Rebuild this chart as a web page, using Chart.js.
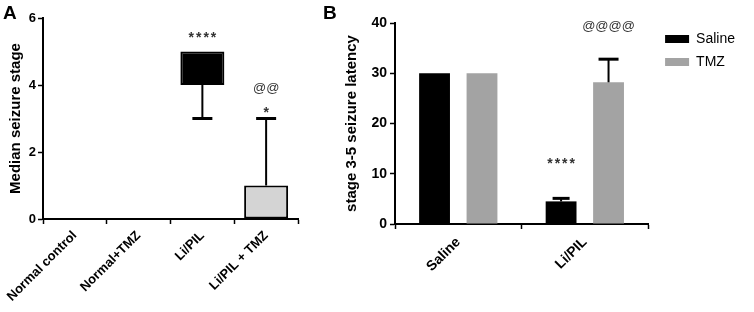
<!DOCTYPE html>
<html>
<head>
<meta charset="utf-8">
<script src="https://cdn.jsdelivr.net/npm/chart.js@4.4.1/dist/chart.umd.min.js"></script>
<style>
  html, body { margin: 0; padding: 0; background: #fff; }
  body { width: 754px; height: 312px; position: relative; overflow: hidden; font-family: 'Liberation Sans', Arial, sans-serif; }
  .panel { position: absolute; top: 0; height: 312px; }
  #panelA { left: 0; width: 320px; }
  #panelB { left: 320px; width: 434px; }
  .letter { position: absolute; font-weight: bold; font-size: 19px; line-height: 1; color: #000; }
</style>
</head>
<body>
<div class="panel" id="panelA"><canvas id="chartA" width="320" height="312"></canvas></div>
<div class="panel" id="panelB"><canvas id="chartB" width="434" height="312"></canvas></div>
<div class="letter" style="left:3px;top:3px">A</div>
<div class="letter" style="left:323px;top:3px">B</div>
<script>
// Panel A: median (box) with range whiskers
const groupsA = ['Normal control', 'Normal+TMZ', 'Li/PIL', 'Li/PIL + TMZ'];
const boxLowA = [0, 0, 4, 0];
const boxHighA = [0, 0, 5, 1];
const rangeMinA = [0, 0, 3, 0];
const rangeMaxA = [0, 0, 5, 3];
const ticksA = [0, 2, 4, 6];

// Panel B: latency, mean + error
const groupsB = ['Saline', 'Li/PIL'];
const salineB = [30, 4.5];
const salineErrB = [0, 0.6];
const tmzB = [30, 28.2];
const tmzErrB = [0, 4.6];
const ticksB = [0, 10, 20, 30, 40];

// significance marks: text, category index, dataset index, y value (baseline)
const notesA = [
  { text: '****', index: 2, dataset: 0, y: 5.28 },
  { text: '@@', index: 3, dataset: 0, y: 3.78 },
  { text: '*', index: 3, dataset: 0, y: 3.05 },
];
const notesB = [
  { text: '****', index: 1, dataset: 0, y: 11.05 },
  { text: '@@@@', index: 1, dataset: 1, y: 38.7 },
];

const FONT = "'Liberation Sans', Arial, sans-serif";
Chart.defaults.font.family = FONT;
Chart.defaults.color = '#000';

function drawNotes(chart, notes) {
  const { ctx, scales: { y } } = chart;
  ctx.save();
  ctx.fillStyle = '#333';
  ctx.textAlign = 'center';
  ctx.textBaseline = 'alphabetic';
  notes.forEach(n => {
    const bar = chart.getDatasetMeta(n.dataset).data[n.index];
    const isStar = n.text.indexOf('*') === 0;
    ctx.font = isStar ? `bold 14px ${FONT}` : `13px ${FONT}`;
    ctx.letterSpacing = isStar ? '2px' : '0px';
    ctx.fillText(n.text, bar.x + (isStar ? 1 : 0), y.getPixelForValue(n.y));
  });
  ctx.restore();
}

function whisker(ctx, x, y0, y1, cap) {
  ctx.lineWidth = 2;
  ctx.beginPath();
  ctx.moveTo(x, y0);
  ctx.lineTo(x, y1);
  ctx.stroke();
  ctx.lineWidth = 3;
  ctx.beginPath();
  ctx.moveTo(x - cap / 2, y1);
  ctx.lineTo(x + cap / 2, y1);
  ctx.stroke();
}

const extrasA = {
  id: 'extrasA',
  afterDatasetsDraw(chart) {
    const { ctx, scales: { y } } = chart;
    const bars = chart.getDatasetMeta(0).data;
    ctx.save();
    ctx.strokeStyle = '#000';
    bars.forEach((bar, i) => {
      if (rangeMinA[i] < boxLowA[i]) whisker(ctx, bar.x, y.getPixelForValue(boxLowA[i]), y.getPixelForValue(rangeMinA[i]), 20);
      if (rangeMaxA[i] > boxHighA[i]) whisker(ctx, bar.x, y.getPixelForValue(boxHighA[i]), y.getPixelForValue(rangeMaxA[i]), 20);
    });
    ctx.restore();
    drawNotes(chart, notesA);
  }
};

const extrasB = {
  id: 'extrasB',
  // nudge the legend a little to the right of the plot, like the original
  afterLayout(chart) {
    chart.legend.left += 8;
    chart.legend.right += 8;
  },
  afterDatasetsDraw(chart) {
    const { ctx, scales: { y } } = chart;
    ctx.save();
    ctx.strokeStyle = '#000';
    [[salineB, salineErrB, 17], [tmzB, tmzErrB, 20]].forEach(([vals, errs, cap], d) => {
      chart.getDatasetMeta(d).data.forEach((bar, i) => {
        if (errs[i] > 0) whisker(ctx, bar.x, y.getPixelForValue(vals[i]), y.getPixelForValue(vals[i] + errs[i]), cap);
      });
    });
    ctx.restore();
    drawNotes(chart, notesB);
  }
};

const axisGrid = { drawOnChartArea: false, drawTicks: true, tickLength: 5, tickColor: '#000', tickWidth: 1.5 };
const axisBorder = { display: true, color: '#000', width: 2 };

new Chart(document.getElementById('chartA'), {
  type: 'bar',
  data: {
    labels: groupsA,
    datasets: [{
      data: groupsA.map((_, i) => [boxLowA[i], boxHighA[i]]),
      backgroundColor: ['#000', '#000', '#000', '#d4d4d4'],
      borderColor: '#000',
      borderWidth: 2,
      borderSkipped: false,
      categoryPercentage: 1,
      barPercentage: 0.69,
    }]
  },
  options: {
    responsive: false,
    animation: false,
    layout: { padding: { left: 3, top: 18, right: 22, bottom: 0 } },
    plugins: { legend: { display: false }, tooltip: { enabled: false } },
    scales: {
      x: {
        offset: true,
        grid: axisGrid,
        border: axisBorder,
        ticks: { maxRotation: 45, minRotation: 45, padding: 4, font: { size: 13, weight: 'bold' } },
        afterFit: s => { s.height = 93; }
      },
      y: {
        min: 0, max: 6,
        grid: axisGrid,
        border: axisBorder,
        afterBuildTicks: s => { s.ticks = ticksA.map(v => ({ value: v })); },
        ticks: { padding: 2, font: { size: 13, weight: 'bold' } },
        title: { display: true, text: 'Median seizure stage', font: { size: 15, weight: 'bold' } },
        afterFit: s => { s.width = 40; }
      }
    }
  },
  plugins: [extrasA]
});

new Chart(document.getElementById('chartB'), {
  type: 'bar',
  data: {
    labels: groupsB,
    datasets: [
      { label: 'Saline', data: salineB, backgroundColor: '#000', categoryPercentage: 0.75, barPercentage: 0.65 },
      { label: 'TMZ', data: tmzB, backgroundColor: '#a3a3a3', categoryPercentage: 0.75, barPercentage: 0.65 }
    ]
  },
  options: {
    responsive: false,
    animation: false,
    layout: { padding: { left: 19, top: 23, right: 17, bottom: 0 } },
    plugins: {
      tooltip: { enabled: false },
      legend: {
        position: 'right',
        align: 'start',
        labels: { boxWidth: 24, boxHeight: 8, padding: 9, font: { size: 14 }, color: '#000' }
      }
    },
    scales: {
      x: {
        offset: true,
        grid: axisGrid,
        border: axisBorder,
        ticks: { maxRotation: 45, minRotation: 45, padding: 5, font: { size: 14, weight: 'bold' } },
        afterFit: s => { s.height = 88; }
      },
      y: {
        min: 0, max: 40,
        grid: axisGrid,
        border: axisBorder,
        afterBuildTicks: s => { s.ticks = ticksB.map(v => ({ value: v })); },
        ticks: { padding: 3, font: { size: 14, weight: 'bold' } },
        title: { display: true, text: 'stage 3-5 seizure latency', font: { size: 15, weight: 'bold' } },
        afterFit: s => { s.width = 56; }
      }
    }
  },
  plugins: [extrasB]
});
</script>
</body>
</html>
